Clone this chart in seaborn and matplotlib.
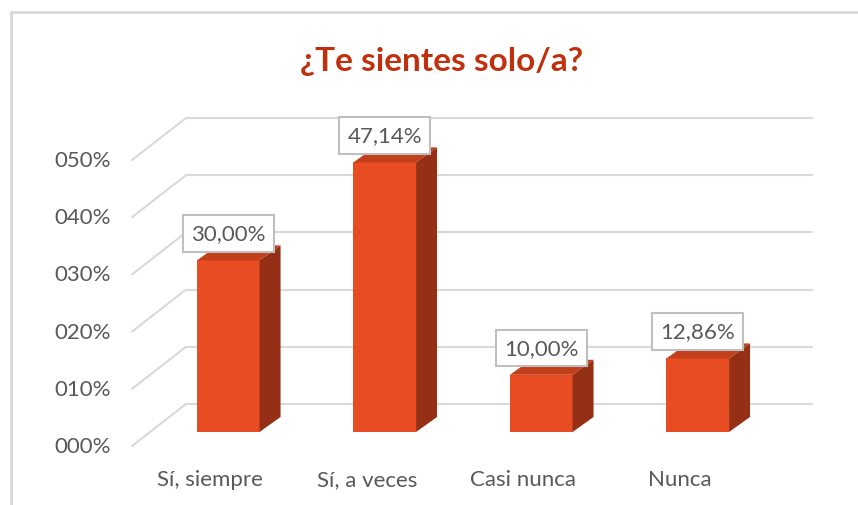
import matplotlib
matplotlib.use("Agg")
import matplotlib.pyplot as plt
import seaborn as sns
from matplotlib.patches import Polygon
from matplotlib.lines import Line2D

# Survey answers and their shares (%)
categories = ["Sí, siempre", "Sí, a veces", "Casi nunca", "Nunca"]
shares = [30.00, 47.14, 10.00, 12.86]
tick_values = [0, 10, 20, 30, 40, 50]
tick_labels = ["000%", "010%", "020%", "030%", "040%", "050%"]
title = "¿Te sientes solo/a?"

FRONT_COLOR = "#E84C22"
SIDE_COLOR = "#953016"
TOP_COLOR = "#C23F1C"
GRID_COLOR = "#D9D9D9"
TEXT_COLOR = "#595959"
TITLE_COLOR = "#C0300E"

sns.set_style("white")
plt.rcParams["font.family"] = ["Lato", "DejaVu Sans"]

W, H = 858, 506
fig = plt.figure(figsize=(W / 100, H / 100), dpi=100)
fig.patch.set_facecolor("white")

# plot plane of the bar fronts (pixel box inside the figure)
ax = fig.add_axes([150 / W, 73 / H, 626 / W, 314.6 / H])
sns.barplot(x=categories, y=shares, ax=ax, color=FRONT_COLOR, saturation=1,
            width=0.4, linewidth=0, zorder=3)
ax.set_xlim(-0.5, 3.5)
ax.set_ylim(0, 55)
ax.set_axis_off()

# pseudo-3D depth offsets in pixels (dx right, dy up) relative to the bar plane
FRONT = (-18, -14)
BAR_BACK = (21, 15)
WALL = (36, 28)


def shifted(x, y, d):
    px, py = ax.transData.transform((x, y))
    return ax.transData.inverted().transform((px + d[0], py + d[1]))


x0, x1 = ax.get_xlim()

# back wall gridlines and the slanted lines across the left side wall
for v in tick_values:
    a = shifted(x0, v, WALL)
    b = shifted(x1, v, WALL)
    ax.add_line(Line2D([a[0], b[0]], [a[1], b[1]], color=GRID_COLOR, lw=1.5,
                       zorder=1, clip_on=False))
    f = shifted(x0, v, FRONT)
    ax.add_line(Line2D([f[0], a[0]], [f[1], a[1]], color=GRID_COLOR, lw=1.5,
                       zorder=1, clip_on=False))

# value axis labels, on the front edge of the side wall
for v, lab in zip(tick_values, tick_labels):
    p = shifted(x0, v, (FRONT[0] - 21, FRONT[1]))
    ax.text(p[0], p[1], lab, ha="right", va="center", fontsize=16,
            color=TEXT_COLOR)

# category labels below the front edge of the floor
for i, lab in enumerate(categories):
    p = shifted(i, 0, (FRONT[0], FRONT[1] - 33))
    ax.text(p[0], p[1], lab, ha="center", va="center", fontsize=16,
            color=TEXT_COLOR)

# side and top faces of each bar, built from the drawn fronts
for bar, v in zip(ax.patches[: len(shares)], shares):
    left = bar.get_x()
    right = left + bar.get_width()
    h = bar.get_height()
    side = [(right, 0), (right, h), tuple(shifted(right, h, BAR_BACK)),
            tuple(shifted(right, 0, BAR_BACK))]
    top = [(left, h), (right, h), tuple(shifted(right, h, BAR_BACK)),
           tuple(shifted(left, h, BAR_BACK))]
    ax.add_patch(Polygon(side, closed=True, facecolor=SIDE_COLOR, lw=0,
                         zorder=3, clip_on=False))
    ax.add_patch(Polygon(top, closed=True, facecolor=TOP_COLOR, lw=0,
                         zorder=3, clip_on=False))
    ax.annotate(f"{v:.2f}%".replace(".", ","), xy=(left + bar.get_width() / 2, h),
                xytext=(0, 27), textcoords="offset pixels", ha="center",
                va="center", fontsize=16, color=TEXT_COLOR, zorder=5,
                annotation_clip=False,
                bbox=dict(boxstyle="square,pad=0.37", facecolor="white",
                          edgecolor="#BFBFBF", lw=1.5))

fig.text(442 / W, 1 - 62 / H, title, ha="center", va="center", fontsize=24,
         fontweight="bold", color=TITLE_COLOR)

# chart area frame (left and top edges)
fig.add_artist(Line2D([11 / W, 11 / W], [0, 1 - 13 / H], color=GRID_COLOR,
                      lw=2, transform=fig.transFigure))
fig.add_artist(Line2D([11 / W, 1], [1 - 13 / H, 1 - 13 / H], color=GRID_COLOR,
                      lw=2, transform=fig.transFigure))

fig.savefig("out.png", dpi=100, facecolor="white")
